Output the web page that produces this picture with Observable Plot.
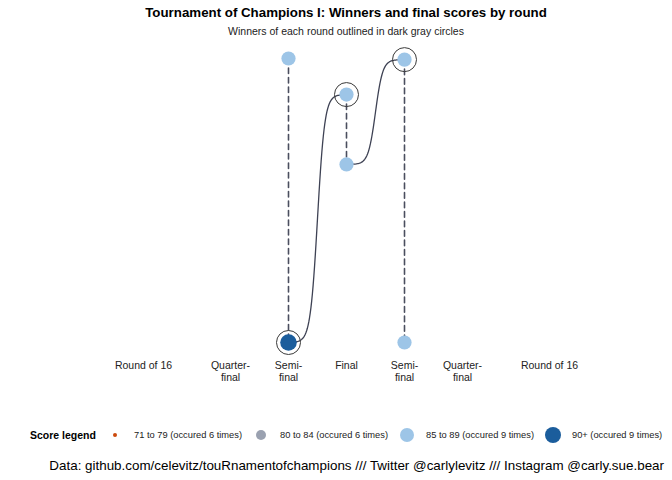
<!DOCTYPE html>
<html>
<head>
<meta charset="utf-8">
<script src="https://cdn.jsdelivr.net/npm/d3@7"></script>
<script src="https://cdn.jsdelivr.net/npm/@observablehq/plot@0.6"></script>
<style>
  html, body { margin: 0; padding: 0; background: #fff; }
  body { width: 672px; height: 480px; position: relative; overflow: hidden;
         font-family: "Liberation Sans", Arial, Helvetica, sans-serif; color: #000; }
  #title { position: absolute; left: 20px; width: 652px; top: 5px; text-align: center;
           font-weight: bold; font-size: 13.3px; }
  #subtitle { position: absolute; left: 20px; width: 652px; top: 25px; text-align: center;
              font-size: 10.5px; color: #222; }
  #chart { position: absolute; left: 0; top: 40px; }
  #legend { position: absolute; left: 30px; top: 427px; height: 16px; display: flex; align-items: center;
            font-size: 9.3px; color: #222; white-space: nowrap; }
  #legend .lt { font-weight: bold; font-size: 10.5px; color: #000; width: 66px; }
  #legend .box { width: 38px; height: 18px; display: flex; align-items: center; justify-content: center; }
  #legend .sw { display: inline-block; border-radius: 50%; }
  #legend .tx { display: inline-block; width: 108px; }
  #caption { position: absolute; right: 8px; top: 458px; font-size: 13.4px; color: #000; white-space: nowrap; }
</style>
</head>
<body>
<div id="title"></div>
<div id="subtitle"></div>
<div id="chart"></div>
<div id="legend"></div>
<div id="caption"></div>
<script>
// ---- data ----
const titleText = "Tournament of Champions I: Winners and final scores by round";
const subtitleText = "Winners of each round outlined in dark gray circles";
const captionText = "Data: github.com/celevitz/touRnamentofchampions /// Twitter @carlylevitz /// Instagram @carly.sue.bear";

const roundLabels = ["Round of 16", "Quarter-\nfinal", "Semi-\nfinal", "Final", "Semi-\nfinal", "Quarter-\nfinal", "Round of 16"];
const roundPositions = [-3.5, -2, -1, 0, 1, 2, 3.5];

// points (round position, bracket slot, score bin, winner?)
const pointRound = [-1, -1, 0, 0, 1, 1];
const pointSlot = [100, 0, 87.3, 62.7, 99.6, 0];
const pointBin = ["85 to 89", "90+", "85 to 89", "85 to 89", "85 to 89", "85 to 89"];
const pointWinner = [false, true, true, false, true, false];

// advancing paths (from -> to)
const pathId = ["a", "a", "b", "b"];
const pathRound = [-1, 0, 0, 1];
const pathSlot = [0, 87.3, 62.7, 99.6];

// legend
const scoreBins = ["71 to 79", "80 to 84", "85 to 89", "90+"];
const binCounts = [6, 6, 9, 9];

// ---- styles ----
const binColors = ["#cc4a0c", "#9aa1b0", "#9dc5e7", "#1b5d9c"];
const binRadius = {"71 to 79": 2.4, "80 to 84": 5.2, "85 to 89": 7.1, "90+": 8.3};

const points = pointRound.map((r, i) => ({round: r, slot: pointSlot[i], bin: pointBin[i], winner: pointWinner[i]}));
const paths = pathId.map((id, i) => ({id, round: pathRound[i], slot: pathSlot[i]}));

// sigmoid (ggbump-like) curve renderer between consecutive points
function curveSigmoid(context) {
  let x0, y0, started = false;
  const smooth = 8, n = 80;
  return {
    areaStart() {}, areaEnd() {},
    lineStart() { started = false; },
    lineEnd() {},
    point(x, y) {
      x = +x; y = +y;
      if (!started) { context.moveTo(x, y); started = true; }
      else {
        for (let k = 1; k <= n; k++) {
          const t = k / n, s = -smooth + 2 * smooth * t, f = 1 / (1 + Math.exp(-s));
          context.lineTo(x0 + (x - x0) * t, y0 + (y - y0) * f);
        }
      }
      x0 = x; y0 = y;
    }
  };
}

document.getElementById("title").textContent = titleText;
document.getElementById("subtitle").textContent = subtitleText;
document.getElementById("caption").textContent = captionText;

const chart = Plot.plot({
  width: 672,
  height: 350,
  marginLeft: 143,
  marginRight: 123,
  marginTop: 18,
  marginBottom: 48,
  style: {fontFamily: "Liberation Sans, Arial, sans-serif", background: "white"},
  x: {domain: [-3.5, 3.5]},
  y: {domain: [0, 100], axis: null},
  r: {type: "identity"},
  color: {domain: scoreBins, range: binColors},
  marks: [
    Plot.line(points, {x: "round", y: "slot", z: "round", stroke: "#4a4e5e", strokeWidth: 1.6, strokeDasharray: "5.5,4"}),
    Plot.line(paths, {x: "round", y: "slot", z: "id", curve: curveSigmoid, stroke: "#3e4254", strokeWidth: 1.3}),
    Plot.dot(points.filter(d => d.winner), {x: "round", y: "slot", r: 12, stroke: "#3a3a3a", strokeWidth: 1, fill: "none"}),
    Plot.dot(points, {x: "round", y: "slot", r: d => binRadius[d.bin], fill: "bin", stroke: "none"}),
    Plot.axisX({ticks: roundPositions, tickFormat: v => roundLabels[roundPositions.indexOf(v)],
      tickSize: 0, tickPadding: 18, fontSize: 10.5, lineHeight: 1.15, fill: "#222", label: null})
  ]
});
document.getElementById("chart").appendChild(chart);

// legend
const legend = document.getElementById("legend");
const lt = document.createElement("span");
lt.className = "lt";
lt.textContent = "Score legend";
legend.appendChild(lt);
scoreBins.forEach((b, i) => {
  const box = document.createElement("span");
  box.className = "box";
  const sw = document.createElement("span");
  sw.className = "sw";
  const r = binRadius[b];
  sw.style.width = sw.style.height = (2 * r) + "px";
  sw.style.background = binColors[i];
  box.appendChild(sw);
  const tx = document.createElement("span");
  tx.className = "tx";
  tx.textContent = `${b} (occured ${binCounts[i]} times)`;
  legend.appendChild(box);
  legend.appendChild(tx);
});
</script>
</body>
</html>
